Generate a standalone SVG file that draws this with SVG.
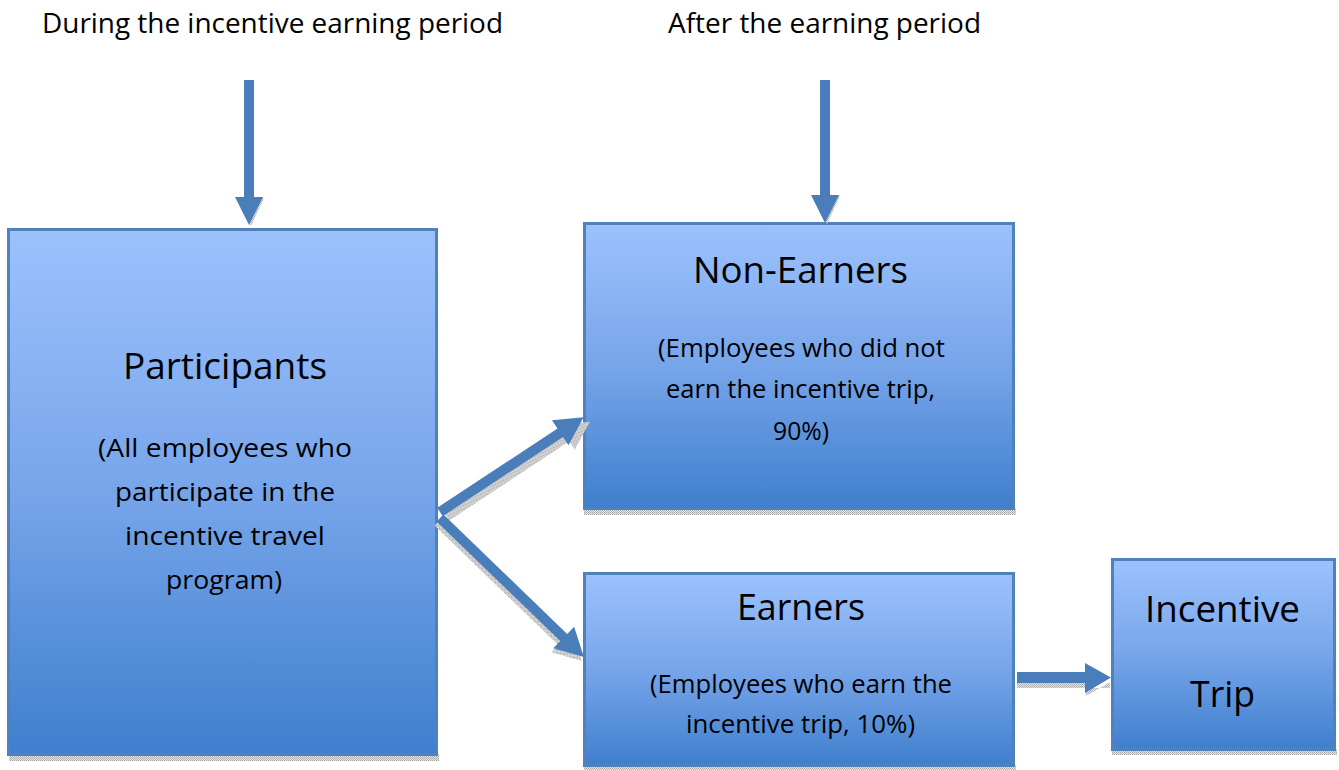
<svg xmlns="http://www.w3.org/2000/svg" width="1339" height="770" viewBox="0 0 1339 770">
<defs>
<linearGradient id="boxGrad" x1="0" y1="0" x2="0" y2="1">
<stop offset="0" stop-color="#9cc2fd"/>
<stop offset="0.5" stop-color="#77a5ea"/>
<stop offset="1" stop-color="#3f7fcd"/>
</linearGradient>
<pattern id="dots" width="2" height="2" patternUnits="userSpaceOnUse">
<rect width="2" height="2" fill="#e4e4e4"/>
<rect width="1" height="1" fill="#a8a8a8"/>
<rect x="1" y="1" width="1" height="1" fill="#b8b8b8"/>
</pattern>
<path id="arrowShape" d="M0,-5 L-28,-5 L-28,-14.5 L0,0 Z"/>
</defs>
<style>
.box{fill:url(#boxGrad);stroke:#4f81bd;stroke-width:3}
.shadow{fill:url(#dots)}
.arrow{fill:#4a7ebb}
.ashadow{fill:url(#dots)}
.t{font-family:"Open Sans","Noto Sans","DejaVu Sans",sans-serif;fill:#000;text-anchor:middle}
.lbl{font-size:27px}
.title{font-size:36px}
.sub{font-size:26px}
</style>

<g id="label-during">
<text class="t lbl" x="272.5" y="33" textLength="461" lengthAdjust="spacingAndGlyphs">During the incentive earning period</text>
</g>
<g id="label-after">
<text class="t lbl" x="824.5" y="33" textLength="313" lengthAdjust="spacingAndGlyphs">After the earning period</text>
</g>

<g id="participants">
<rect class="shadow" x="9" y="754" width="430" height="7"/>
<rect class="box" x="8.5" y="229.5" width="428" height="525"/>
<text class="t title" x="225" y="379" textLength="204" lengthAdjust="spacingAndGlyphs">Participants</text>
<text class="t sub" x="225" y="457" textLength="254" lengthAdjust="spacingAndGlyphs">(All employees who</text>
<text class="t sub" x="225" y="501" textLength="220" lengthAdjust="spacingAndGlyphs">participate in the</text>
<text class="t sub" x="225" y="545" textLength="200" lengthAdjust="spacingAndGlyphs">incentive travel</text>
<text class="t sub" x="224" y="589" textLength="116" lengthAdjust="spacingAndGlyphs">program)</text>
</g>

<g id="non-earners">
<rect class="shadow" x="584" y="508" width="432" height="7"/>
<rect class="box" x="584.5" y="223.5" width="429" height="285"/>
<text class="t title" x="800.5" y="283" textLength="215" lengthAdjust="spacingAndGlyphs">Non-Earners</text>
<text class="t sub" x="801.5" y="357" textLength="287" lengthAdjust="spacingAndGlyphs">(Employees who did not</text>
<text class="t sub" x="800.5" y="398" textLength="269" lengthAdjust="spacingAndGlyphs">earn the incentive trip,</text>
<text class="t sub" x="801" y="440" textLength="56" lengthAdjust="spacingAndGlyphs">90%)</text>
</g>

<g id="earners">
<rect class="shadow" x="584" y="765" width="432" height="5"/>
<rect class="box" x="584.5" y="573.5" width="429" height="192"/>
<text class="t title" x="801" y="620" textLength="128" lengthAdjust="spacingAndGlyphs">Earners</text>
<text class="t sub" x="801" y="693" textLength="302" lengthAdjust="spacingAndGlyphs">(Employees who earn the</text>
<text class="t sub" x="800.5" y="733" textLength="229" lengthAdjust="spacingAndGlyphs">incentive trip, 10%)</text>
</g>

<g id="incentive-trip">
<rect class="shadow" x="1112" y="749" width="225" height="6"/>
<rect class="box" x="1112.5" y="559.5" width="222" height="190"/>
<text class="t title" x="1222.5" y="622" textLength="155" lengthAdjust="spacingAndGlyphs">Incentive</text>
<text class="t title" x="1222.5" y="707" textLength="65" lengthAdjust="spacingAndGlyphs">Trip</text>
</g>

<g id="connectors">
<!-- vertical arrow left -->
<path class="ashadow" d="M236,198 L264,198 L251,226 Z"/>
<path class="arrow" d="M244,80 L254,80 L254,197 L263,197 L249,225 L235,197 L244,197 Z"/>
<!-- vertical arrow right -->
<path class="ashadow" d="M812,196 L840,196 L827,224 Z"/>
<path class="arrow" d="M820,80 L830,80 L830,195 L839,195 L825,223 L811,195 L820,195 Z"/>
<!-- diagonal up -->
<g transform="translate(443,515) rotate(-33.4)">
<path class="ashadow" transform="translate(2,3)" d="M0,-5 L144,-5 L144,-15 L172,0 L144,15 L144,5 L0,5 Z"/>
</g>
<g transform="translate(440,512) rotate(-33.4)">
<path class="arrow" d="M0,-5 L144,-5 L144,-15 L172,0 L144,15 L144,5 L0,5 Z"/>
</g>
<!-- diagonal down -->
<g transform="translate(438,522) rotate(44)">
<path class="ashadow" d="M0,-5 L172,-5 L172,-15 L200,0 L172,15 L172,5 L0,5 Z"/>
</g>
<g transform="translate(440,518) rotate(44)">
<path class="arrow" d="M0,-5 L172,-5 L172,-15 L200,0 L172,15 L172,5 L0,5 Z"/>
</g>
<!-- horizontal arrow -->
<path class="ashadow" d="M1017,681 L1086,681 L1086,686 L1086,696 L1110,682 L1110,688 L1017,688 Z"/>
<path class="arrow" d="M1017,672 L1085,672 L1085,663 L1111,677.5 L1085,693 L1085,683 L1017,683 Z"/>
</g>
</svg>
